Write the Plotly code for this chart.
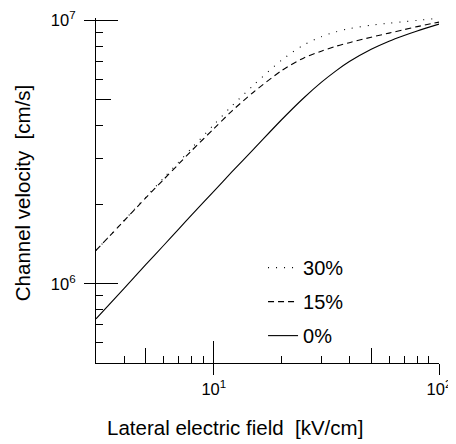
import plotly.graph_objects as go
import math

# Lateral electric field [kV/cm]
field = [3, 4, 5, 6, 7, 8, 10, 12, 15, 20, 25, 30, 35, 40, 50, 60, 70, 80, 100]

# Channel velocity [cm/s]
v_0 = [7.36e5, 9.61e5, 1.184e6, 1.401e6, 1.618e6, 1.830e6, 2.247e6, 2.654e6, 3.241e6,
       4.201e6, 5.071e6, 5.824e6, 6.459e6, 6.990e6, 7.784e6, 8.356e6, 8.784e6, 9.137e6, 9.70e6]
v_15 = [1.339e6, 1.736e6, 2.124e6, 2.494e6, 2.857e6, 3.215e6, 3.882e6, 4.524e6, 5.345e6,
        6.453e6, 7.201e6, 7.655e6, 7.998e6, 8.246e6, 8.652e6, 8.965e6, 9.244e6, 9.489e6, 9.87e6]
v_30 = [1.339e6, 1.741e6, 2.139e6, 2.527e6, 2.908e6, 3.286e6, 4.021e6, 4.727e6, 5.683e6,
        7.074e6, 8.068e6, 8.690e6, 9.08e6, 9.32e6, 9.61e6, 9.78e6, 9.91e6, 1.002e7, 1.022e7]

series_names = ["30%", "15%", "0%"]
series_values = [v_30, v_15, v_0]

x_major = [10, 100]
x_major_text = ["10<sup>1</sup>", "10<sup>2</sup>"]
x_half = [5, 50]
x_minor = [4, 6, 7, 8, 9, 20, 30, 40, 60, 70, 80, 90]

y_major = [1e6, 1e7]
y_major_text = ["10<sup>6</sup>", "10<sup>7</sup>"]
y_half = [5e6]
y_minor = [6e5, 7e5, 8e5, 9e5, 2e6, 3e6, 4e6, 6e6, 7e6, 8e6, 9e6]

x_range = [math.log10(3), 2]
y_range = [math.log10(5e5), 7.01]

FONT = "Liberation Sans, Arial, Helvetica, sans-serif"

fig = go.Figure()
styles = {"0%": "solid", "15%": "6px,4px", "30%": "1px,7px"}
for name, vals in zip(series_names, series_values):
    fig.add_trace(go.Scatter(
        x=field, y=vals, mode="lines", name=name, legendgroup=name,
        line=dict(color="black", width=1.1, dash=styles[name], shape="spline", smoothing=0.8),
    ))

# empty helper traces so the overlaid tick axes are drawn
fig.add_trace(go.Scatter(x=[], y=[], xaxis="x2", yaxis="y2", showlegend=False, hoverinfo="skip"))
fig.add_trace(go.Scatter(x=[], y=[], xaxis="x3", yaxis="y3", showlegend=False, hoverinfo="skip"))

common = dict(type="log", showgrid=False, zeroline=False, automargin=False)

# page body has an 8px default margin, so the figure is sized 8px smaller
fig.update_layout(
    template="none",
    width=448, height=436,
    margin=dict(l=88, r=17, t=10, b=81, autoexpand=False),
    paper_bgcolor="white", plot_bgcolor="white",
    font=dict(family=FONT, size=16.5, color="black"),
    showlegend=True,
    legend=dict(
        x=0.487, y=0.333, xanchor="left", yanchor="top",
        traceorder="grouped", tracegroupgap=5,
        font=dict(size=20, family=FONT), bgcolor="rgba(0,0,0,0)",
    ),
    xaxis=dict(
        **common, range=x_range, tickmode="array", tickvals=x_major, ticktext=x_major_text,
        ticks="outside", ticklen=11, tickwidth=1.2, tickcolor="black",
        showline=True, linecolor="black", linewidth=1.2, anchor="y",
        tickfont=dict(size=16.5),
    ),
    yaxis=dict(
        **common, range=y_range, tickmode="array", tickvals=y_major, ticktext=y_major_text,
        ticks="outside", ticklen=11, tickwidth=1.2, tickcolor="black",
        showline=True, linecolor="black", linewidth=1.2, anchor="x",
        tickfont=dict(size=16.5), ticklabelstandoff=5,
    ),
    xaxis2=dict(
        **common, range=x_range, overlaying="x", anchor="y", side="bottom",
        tickmode="array", tickvals=x_major, ticks="inside", ticklen=22, tickwidth=1.2,
        tickcolor="black", showticklabels=False, showline=False,
    ),
    yaxis2=dict(
        **common, range=y_range, overlaying="y", anchor="x", side="left",
        tickmode="array", tickvals=y_major, ticks="inside", ticklen=22, tickwidth=1.2,
        tickcolor="black", showticklabels=False, showline=False,
    ),
    xaxis3=dict(
        **common, range=x_range, overlaying="x", anchor="y", side="bottom",
        tickmode="array", tickvals=x_half, ticks="inside", ticklen=15, tickwidth=1.2,
        tickcolor="black", showticklabels=False, showline=False,
        minor=dict(tickmode="array", tickvals=x_minor, ticks="inside", ticklen=7,
                   tickwidth=1.2, tickcolor="black", showgrid=False),
    ),
    yaxis3=dict(
        **common, range=y_range, overlaying="y", anchor="x", side="left",
        tickmode="array", tickvals=y_half, ticks="inside", ticklen=15, tickwidth=1.2,
        tickcolor="black", showticklabels=False, showline=False,
        minor=dict(tickmode="array", tickvals=y_minor, ticks="inside", ticklen=7,
                   tickwidth=1.2, tickcolor="black", showgrid=False),
    ),
    annotations=[
        dict(text="Lateral electric field\u00a0\u00a0[kV/cm]", xref="paper", yref="paper",
             x=0.405, y=-0.188, xanchor="center", yanchor="middle", showarrow=False,
             font=dict(size=20.5, family=FONT)),
        dict(text="Channel velocity\u00a0\u00a0[cm/s]", xref="paper", yref="paper",
             x=-0.214, y=0.491, xanchor="center", yanchor="middle", showarrow=False,
             textangle=-90, font=dict(size=20.5, family=FONT)),
    ],
)

fig.write_html("out.html")
